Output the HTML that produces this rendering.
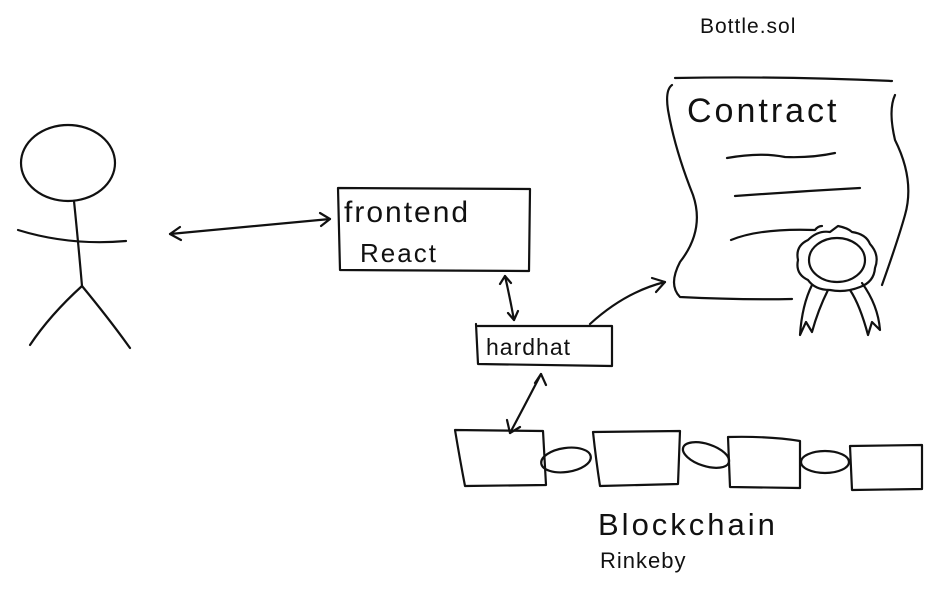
<!DOCTYPE html>
<html><head><style>html,body{margin:0;padding:0;background:#fff;width:932px;height:595px;overflow:hidden}
text{font-family:"Liberation Sans",sans-serif;fill:#111;font-weight:300}</style></head>
<body>
<svg width="932" height="595" viewBox="0 0 932 595" xmlns="http://www.w3.org/2000/svg">
<g fill="none" stroke="#111" stroke-width="2.2" stroke-linecap="round" stroke-linejoin="round">
<ellipse cx="68" cy="163" rx="47" ry="38"/>
<path d="M74 201 Q78 240 82 286"/>
<path d="M18 230 Q70 246 126 241"/>
<path d="M82 286 Q50 315 30 345"/>
<path d="M82 286 Q110 320 130 348"/>
<path d="M170 234 L330 219"/>
<path d="M180 227 L170 234 L181 240"/>
<path d="M320 213 L330 219 L321 226"/>
<path d="M338 188 L530 189 L529 271 L340 270 Z"/>
<path d="M505 276 Q510 298 514 320"/>
<path d="M500 284 L505 276 L511 283"/>
<path d="M508 313 L514 320 L518 311"/>
<path d="M476 324 L478 364 L612 366 L612 326 M478 326 L612 326"/>
<path d="M590 324 Q625 292 665 282"/>
<path d="M652 278 L665 282 L656 292"/>
<path d="M541 374 Q525 405 510 433"/>
<path d="M535 383 L541 374 L546 385"/>
<path d="M507 420 L510 433 L520 427"/>
<path d="M675 78 Q780 76 892 81"/>
<path d="M672 85 Q665 90 668 110 Q675 150 693 195 Q705 230 680 262 Q668 285 680 297 Q740 300 792 299"/>
<path d="M895 95 Q888 110 895 140 Q915 180 905 215 Q898 240 882 285"/>
<path d="M727 158 Q760 152 785 157 Q812 158 835 153"/>
<path d="M735 196 Q790 192 860 188"/>
<path d="M731 240 Q760 228 815 230 Q818 226 822 226"/>
<path d="M838 226 Q848 228 852 232 Q866 234 870 244 Q880 255 875 268 Q874 282 860 287 Q845 293 830 290 Q815 290 808 280 Q795 274 798 260 Q795 246 808 240 Q818 230 830 232 Z"/>
<ellipse cx="837" cy="260" rx="28" ry="22"/>
<path d="M812 285 Q802 305 800 335 L806 322 L812 332 Q818 310 828 290"/>
<path d="M850 290 Q860 305 868 335 L872 322 L880 330 Q878 305 862 283"/>
<path d="M455 430 L543 431 L546 485 L465 486 Q460 460 455 430 Z"/>
<path d="M593 432 L680 431 L678 484 L600 486 Q596 460 593 432 Z"/>
<path d="M728 437 Q770 436 800 441 L800 488 L730 487 Z"/>
<path d="M850 446 L922 445 L922 489 L852 490 Z"/>
<ellipse cx="566" cy="460" rx="25" ry="12" transform="rotate(-8 566 460)"/>
<ellipse cx="706" cy="455" rx="24" ry="11" transform="rotate(18 706 455)"/>
<ellipse cx="825" cy="462" rx="24" ry="11"/>
</g>
<text x="700" y="33" font-size="21" letter-spacing="1">Bottle.sol</text>
<text x="687" y="122" font-size="34" letter-spacing="3">Contract</text>
<text x="344" y="222" font-size="30" letter-spacing="2">frontend</text>
<text x="360" y="262" font-size="26" letter-spacing="2">React</text>
<text x="486" y="355" font-size="23" letter-spacing="1">hardhat</text>
<text x="598" y="535" font-size="31" letter-spacing="3">Blockchain</text>
<text x="600" y="568" font-size="22" letter-spacing="1">Rinkeby</text>
</svg>
</body></html>
